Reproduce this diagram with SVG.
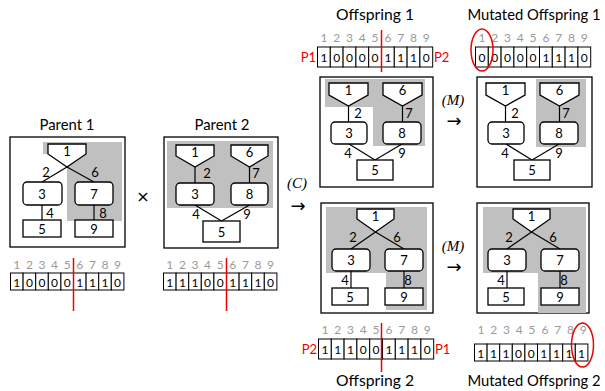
<svg xmlns="http://www.w3.org/2000/svg" width="605" height="391" viewBox="0 0 605 391">
<style>
  .title{font-family:Lato,"Open Sans","Liberation Sans",sans-serif;font-size:15px;fill:#000;text-anchor:middle}
  .lbl{font-family:Lato,"Open Sans","Liberation Sans",sans-serif;font-size:13px;fill:#000;text-anchor:middle;dominant-baseline:central}
  .idx{font-family:Lato,"Open Sans","Liberation Sans",sans-serif;font-size:12px;fill:#9a9a9a;text-anchor:middle;dominant-baseline:central}
  .bit{font-family:Lato,"Open Sans","Liberation Sans",sans-serif;font-size:12px;fill:#000;text-anchor:middle;dominant-baseline:central}
  .par{font-family:Lato,"Open Sans","Liberation Sans",sans-serif;font-size:13px;fill:#e00;dominant-baseline:central}
  .op{font-family:"Liberation Serif",serif;font-style:italic;font-size:15px;fill:#000;text-anchor:middle}
  .sym{font-family:"DejaVu Sans",sans-serif;font-size:16px;fill:#000;text-anchor:middle;dominant-baseline:central}
  .arr{font-family:"DejaVu Sans",sans-serif;font-size:18px;fill:#000;text-anchor:middle;dominant-baseline:central}
  .frame{fill:#fff;stroke:#000;stroke-width:1.3}
  .gray{fill:#c0c0c0;stroke:none}
  .node{fill:#fff;stroke:#000;stroke-width:1.3}
  .edge{stroke:#000;stroke-width:1.2;fill:none}
  .cell{fill:#fff;stroke:#000;stroke-width:1}
  .cut{stroke:#e00;stroke-width:1.5}
  .ring{fill:none;stroke:#e00;stroke-width:1.5}
</style>

<!-- titles -->
<text class="title" x="67" y="130" textLength="55" lengthAdjust="spacingAndGlyphs">Parent 1</text>
<text class="title" x="222" y="130" textLength="55" lengthAdjust="spacingAndGlyphs">Parent 2</text>
<text class="title" x="375" y="20" textLength="78" lengthAdjust="spacingAndGlyphs">Offspring 1</text>
<text class="title" x="534" y="20" textLength="133" lengthAdjust="spacingAndGlyphs">Mutated Offspring 1</text>
<text class="title" x="375" y="386" textLength="78" lengthAdjust="spacingAndGlyphs">Offspring 2</text>
<text class="title" x="534" y="386" textLength="133" lengthAdjust="spacingAndGlyphs">Mutated Offspring 2</text>

<!-- operators -->
<text class="sym" x="143" y="196">×</text>
<text class="op" x="297" y="188">(C)</text>
<text class="arr" x="298" y="205">→</text>
<text class="op" x="453" y="105">(M)</text>
<text class="arr" x="454" y="120">→</text>
<text class="op" x="453" y="251">(M)</text>
<text class="arr" x="454" y="266">→</text>

<!-- Parent 1 -->
<g id="parent1">
  <rect class="frame" x="10" y="137" width="115" height="110"/>
  <polygon class="gray" points="43,142 122,142 122,221 67,221 67,167 48,154 43,154"/>
  <g class="edges">
    <line class="edge" x1="67" y1="167" x2="42" y2="182"/>
    <line class="edge" x1="67" y1="167" x2="94" y2="182"/>
    <line class="edge" x1="42" y1="205" x2="42" y2="220"/>
    <line class="edge" x1="94" y1="205" x2="94" y2="220"/>
  </g>
  <polygon class="node" points="48,144 86,144 86,154 67,167 48,154"/>
  <rect class="node" x="23" y="182" width="39" height="23" rx="4"/>
  <rect class="node" x="75" y="182" width="38" height="23" rx="4"/>
  <rect class="node" x="23" y="220" width="38" height="17"/>
  <rect class="node" x="75" y="220" width="38" height="17"/>
  <text class="lbl" x="67" y="151">1</text>
  <text class="lbl" x="42" y="194">3</text>
  <text class="lbl" x="94" y="194">7</text>
  <text class="lbl" x="42" y="229">5</text>
  <text class="lbl" x="94" y="229">9</text>
  <text class="lbl" x="46" y="172">2</text>
  <text class="lbl" x="95" y="172">6</text>
  <text class="lbl" x="50" y="213">4</text>
  <text class="lbl" x="103" y="213">8</text>
</g>

<!-- Parent 2 -->
<g id="parent2">
  <rect class="frame" x="164" y="137" width="114" height="111"/>
  <rect class="gray" x="167" y="141" width="106" height="67"/>
  <g class="edges">
    <line class="edge" x1="195" y1="167" x2="195" y2="183"/>
    <line class="edge" x1="249.5" y1="167" x2="249.5" y2="183"/>
    <line class="edge" x1="195" y1="205" x2="221.5" y2="221"/>
    <line class="edge" x1="249.5" y1="205" x2="221.5" y2="221"/>
  </g>
  <polygon class="node" points="176,145 214,145 214,156 195,167 176,156"/>
  <polygon class="node" points="231,145 268,145 268,156 249.5,167 231,156"/>
  <rect class="node" x="176" y="183" width="38" height="22" rx="4"/>
  <rect class="node" x="231" y="183" width="37" height="22" rx="4"/>
  <rect class="node" x="203" y="221" width="37" height="21"/>
  <text class="lbl" x="195" y="152">1</text>
  <text class="lbl" x="249.5" y="152">6</text>
  <text class="lbl" x="195" y="194">3</text>
  <text class="lbl" x="249.5" y="194">8</text>
  <text class="lbl" x="221.5" y="231.5">5</text>
  <text class="lbl" x="207" y="173">2</text>
  <text class="lbl" x="256" y="173">7</text>
  <text class="lbl" x="196" y="214">4</text>
  <text class="lbl" x="247" y="214">9</text>
</g>

<!-- Offspring 1 -->
<g id="offspring1">
  <rect class="frame" x="320" y="77" width="113" height="110"/>
  <polygon class="gray" points="325,79 425,79 425,146 373,146 373,107 325,107"/>
  <g class="edges">
    <line class="edge" x1="348.5" y1="106" x2="348.5" y2="122"/>
    <line class="edge" x1="402.5" y1="106" x2="402.5" y2="122"/>
    <line class="edge" x1="349" y1="144" x2="375" y2="160"/>
    <line class="edge" x1="402" y1="144" x2="375" y2="160"/>
  </g>
  <polygon class="node" points="329,83 368,83 368,95 348.5,106 329,95"/>
  <polygon class="node" points="383,83 422,83 422,95 402.5,106 383,95"/>
  <rect class="node" x="331" y="122" width="36" height="22" rx="4"/>
  <rect class="node" x="383" y="122" width="38" height="22" rx="4"/>
  <rect class="node" x="357" y="160" width="36" height="20"/>
  <text class="lbl" x="348.5" y="90">1</text>
  <text class="lbl" x="402.5" y="90">6</text>
  <text class="lbl" x="349" y="133">3</text>
  <text class="lbl" x="402" y="133">8</text>
  <text class="lbl" x="375" y="170">5</text>
  <text class="lbl" x="358" y="113">2</text>
  <text class="lbl" x="409" y="113">7</text>
  <text class="lbl" x="348" y="153">4</text>
  <text class="lbl" x="402" y="153">9</text>
</g>

<!-- Mutated Offspring 1 -->
<g id="mutated1">
  <rect class="frame" x="477" y="77" width="115" height="110"/>
  <rect class="gray" x="536" y="79" width="50" height="68"/>
  <g class="edges">
    <line class="edge" x1="505.5" y1="106" x2="505.5" y2="122"/>
    <line class="edge" x1="559.5" y1="106" x2="559.5" y2="122"/>
    <line class="edge" x1="506" y1="144" x2="532" y2="160"/>
    <line class="edge" x1="559" y1="144" x2="532" y2="160"/>
  </g>
  <polygon class="node" points="486,83 525,83 525,95 505.5,106 486,95"/>
  <polygon class="node" points="540,83 579,83 579,95 559.5,106 540,95"/>
  <rect class="node" x="488" y="122" width="36" height="22" rx="4"/>
  <rect class="node" x="540" y="122" width="38" height="22" rx="4"/>
  <rect class="node" x="514" y="160" width="36" height="20"/>
  <text class="lbl" x="505.5" y="90">1</text>
  <text class="lbl" x="559.5" y="90">6</text>
  <text class="lbl" x="506" y="133">3</text>
  <text class="lbl" x="559" y="133">8</text>
  <text class="lbl" x="532" y="170">5</text>
  <text class="lbl" x="515" y="113">2</text>
  <text class="lbl" x="566" y="113">7</text>
  <text class="lbl" x="505" y="153">4</text>
  <text class="lbl" x="559" y="153">9</text>
</g>

<!-- Offspring 2 -->
<g id="offspring2">
  <rect class="frame" x="321" y="203" width="112" height="110"/>
  <polygon class="gray" points="326,207 427,207 427,310 386,310 386,273 326,273"/>
  <g class="edges">
    <line class="edge" x1="375.5" y1="232" x2="351" y2="249"/>
    <line class="edge" x1="375.5" y1="232" x2="404" y2="249"/>
    <line class="edge" x1="351" y1="271" x2="351" y2="288"/>
    <line class="edge" x1="404" y1="271" x2="404" y2="288"/>
  </g>
  <polygon class="node" points="357,209 394,209 394,219 375.5,232 357,219"/>
  <rect class="node" x="332" y="249" width="38" height="22" rx="4"/>
  <rect class="node" x="385" y="249" width="38" height="22" rx="4"/>
  <rect class="node" x="332" y="288" width="36" height="17"/>
  <rect class="node" x="385" y="288" width="38" height="17"/>
  <text class="lbl" x="375.5" y="216">1</text>
  <text class="lbl" x="351" y="260">3</text>
  <text class="lbl" x="404" y="260">7</text>
  <text class="lbl" x="350" y="297">5</text>
  <text class="lbl" x="404" y="297">9</text>
  <text class="lbl" x="353" y="237">2</text>
  <text class="lbl" x="397" y="237">6</text>
  <text class="lbl" x="345" y="280">4</text>
  <text class="lbl" x="408" y="280">8</text>
</g>

<!-- Mutated Offspring 2 -->
<g id="mutated2">
  <rect class="frame" x="477" y="203" width="112" height="110"/>
  <polygon class="gray" points="483,207 586,207 586,313 538,313 538,273 483,273"/>
  <g class="edges">
    <line class="edge" x1="531.5" y1="232" x2="507" y2="249"/>
    <line class="edge" x1="531.5" y1="232" x2="560" y2="249"/>
    <line class="edge" x1="507" y1="271" x2="507" y2="288"/>
    <line class="edge" x1="560" y1="271" x2="560" y2="288"/>
  </g>
  <polygon class="node" points="513,209 550,209 550,219 531.5,232 513,219"/>
  <rect class="node" x="488" y="249" width="38" height="22" rx="4"/>
  <rect class="node" x="541" y="249" width="38" height="22" rx="4"/>
  <rect class="node" x="488" y="288" width="36" height="17"/>
  <rect class="node" x="541" y="288" width="38" height="17"/>
  <text class="lbl" x="531.5" y="216">1</text>
  <text class="lbl" x="507" y="260">3</text>
  <text class="lbl" x="560" y="260">7</text>
  <text class="lbl" x="506" y="297">5</text>
  <text class="lbl" x="560" y="297">9</text>
  <text class="lbl" x="509" y="237">2</text>
  <text class="lbl" x="553" y="237">6</text>
  <text class="lbl" x="501" y="280">4</text>
  <text class="lbl" x="564" y="280">8</text>
</g>

<!-- chromosome strings -->
<defs>
  <g id="cells17">
    <rect class="cell" x="0" y="0" width="12.6" height="17"/><rect class="cell" x="12.6" y="0" width="12.6" height="17"/><rect class="cell" x="25.2" y="0" width="12.6" height="17"/><rect class="cell" x="37.8" y="0" width="12.6" height="17"/><rect class="cell" x="50.4" y="0" width="12.6" height="17"/><rect class="cell" x="63" y="0" width="12.6" height="17"/><rect class="cell" x="75.6" y="0" width="12.6" height="17"/><rect class="cell" x="88.2" y="0" width="12.6" height="17"/><rect class="cell" x="100.8" y="0" width="12.6" height="17"/>
  </g>
  <g id="cells20">
    <rect class="cell" x="0" y="0" width="12.8" height="20"/><rect class="cell" x="12.8" y="0" width="12.8" height="20"/><rect class="cell" x="25.6" y="0" width="12.8" height="20"/><rect class="cell" x="38.4" y="0" width="12.8" height="20"/><rect class="cell" x="51.2" y="0" width="12.8" height="20"/><rect class="cell" x="64" y="0" width="12.8" height="20"/><rect class="cell" x="76.8" y="0" width="12.8" height="20"/><rect class="cell" x="89.6" y="0" width="12.8" height="20"/><rect class="cell" x="102.4" y="0" width="12.8" height="20"/>
  </g>
</defs>

<g id="chrom-parent1" transform="translate(10.5,273)">
  <text class="idx" x="6.3" y="-9">1</text><text class="idx" x="18.9" y="-9">2</text><text class="idx" x="31.5" y="-9">3</text><text class="idx" x="44.1" y="-9">4</text><text class="idx" x="56.7" y="-9">5</text><text class="idx" x="69.3" y="-9">6</text><text class="idx" x="81.9" y="-9">7</text><text class="idx" x="94.5" y="-9">8</text><text class="idx" x="107.1" y="-9">9</text>
  <use href="#cells17"/>
  <text class="bit" x="6.3" y="9">1</text><text class="bit" x="18.9" y="9">0</text><text class="bit" x="31.5" y="9">0</text><text class="bit" x="44.1" y="9">0</text><text class="bit" x="56.7" y="9">0</text><text class="bit" x="69.3" y="9">1</text><text class="bit" x="81.9" y="9">1</text><text class="bit" x="94.5" y="9">1</text><text class="bit" x="107.1" y="9">0</text>
  <line class="cut" x1="63" y1="-15" x2="63" y2="38"/>
</g>

<g id="chrom-parent2" transform="translate(163.5,273)">
  <text class="idx" x="6.3" y="-9">1</text><text class="idx" x="18.9" y="-9">2</text><text class="idx" x="31.5" y="-9">3</text><text class="idx" x="44.1" y="-9">4</text><text class="idx" x="56.7" y="-9">5</text><text class="idx" x="69.3" y="-9">6</text><text class="idx" x="81.9" y="-9">7</text><text class="idx" x="94.5" y="-9">8</text><text class="idx" x="107.1" y="-9">9</text>
  <use href="#cells17"/>
  <text class="bit" x="6.3" y="9">1</text><text class="bit" x="18.9" y="9">1</text><text class="bit" x="31.5" y="9">1</text><text class="bit" x="44.1" y="9">0</text><text class="bit" x="56.7" y="9">0</text><text class="bit" x="69.3" y="9">1</text><text class="bit" x="81.9" y="9">1</text><text class="bit" x="94.5" y="9">1</text><text class="bit" x="107.1" y="9">0</text>
  <line class="cut" x1="63" y1="-15" x2="63" y2="38"/>
</g>

<g id="chrom-offspring1" transform="translate(317.5,47)">
  <text class="idx" x="6.4" y="-10">1</text><text class="idx" x="19.2" y="-10">2</text><text class="idx" x="32" y="-10">3</text><text class="idx" x="44.8" y="-10">4</text><text class="idx" x="57.6" y="-10">5</text><text class="idx" x="70.4" y="-10">6</text><text class="idx" x="83.2" y="-10">7</text><text class="idx" x="96" y="-10">8</text><text class="idx" x="108.8" y="-10">9</text>
  <use href="#cells20"/>
  <text class="bit" x="6.4" y="10">1</text><text class="bit" x="19.2" y="10">0</text><text class="bit" x="32" y="10">0</text><text class="bit" x="44.8" y="10">0</text><text class="bit" x="57.6" y="10">0</text><text class="bit" x="70.4" y="10">1</text><text class="bit" x="83.2" y="10">1</text><text class="bit" x="96" y="10">1</text><text class="bit" x="108.8" y="10">0</text>
  <text class="par" x="-1.5" y="10" text-anchor="end">P1</text>
  <text class="par" x="116.5" y="10">P2</text>
  <line class="cut" x1="64" y1="-17" x2="64" y2="25"/>
</g>

<g id="chrom-mutated1" transform="translate(475.5,47)">
  <text class="idx" x="6.4" y="-10">1</text><text class="idx" x="19.2" y="-10">2</text><text class="idx" x="32" y="-10">3</text><text class="idx" x="44.8" y="-10">4</text><text class="idx" x="57.6" y="-10">5</text><text class="idx" x="70.4" y="-10">6</text><text class="idx" x="83.2" y="-10">7</text><text class="idx" x="96" y="-10">8</text><text class="idx" x="108.8" y="-10">9</text>
  <use href="#cells20"/>
  <text class="bit" x="6.4" y="10">0</text><text class="bit" x="19.2" y="10">0</text><text class="bit" x="32" y="10">0</text><text class="bit" x="44.8" y="10">0</text><text class="bit" x="57.6" y="10">0</text><text class="bit" x="70.4" y="10">1</text><text class="bit" x="83.2" y="10">1</text><text class="bit" x="96" y="10">1</text><text class="bit" x="108.8" y="10">0</text>
  <ellipse class="ring" cx="6.5" cy="3" rx="11" ry="21"/>
</g>

<g id="chrom-offspring2" transform="translate(318.5,339)">
  <text class="idx" x="6.4" y="-10">1</text><text class="idx" x="19.2" y="-10">2</text><text class="idx" x="32" y="-10">3</text><text class="idx" x="44.8" y="-10">4</text><text class="idx" x="57.6" y="-10">5</text><text class="idx" x="70.4" y="-10">6</text><text class="idx" x="83.2" y="-10">7</text><text class="idx" x="96" y="-10">8</text><text class="idx" x="108.8" y="-10">9</text>
  <use href="#cells20"/>
  <text class="bit" x="6.4" y="10">1</text><text class="bit" x="19.2" y="10">1</text><text class="bit" x="32" y="10">1</text><text class="bit" x="44.8" y="10">0</text><text class="bit" x="57.6" y="10">0</text><text class="bit" x="70.4" y="10">1</text><text class="bit" x="83.2" y="10">1</text><text class="bit" x="96" y="10">1</text><text class="bit" x="108.8" y="10">0</text>
  <text class="par" x="-1.5" y="10" text-anchor="end">P2</text>
  <text class="par" x="116.5" y="10">P1</text>
  <line class="cut" x1="63" y1="-16" x2="63" y2="33"/>
</g>

<g id="chrom-mutated2" transform="translate(474.5,344)">
  <text class="idx" x="6.4" y="-15">1</text><text class="idx" x="19.2" y="-15">2</text><text class="idx" x="32" y="-15">3</text><text class="idx" x="44.8" y="-15">4</text><text class="idx" x="57.6" y="-15">5</text><text class="idx" x="70.4" y="-15">6</text><text class="idx" x="83.2" y="-15">7</text><text class="idx" x="96" y="-15">8</text><text class="idx" x="108.8" y="-15">9</text>
  <use href="#cells17"/>
  <text class="bit" x="6.3" y="9">1</text><text class="bit" x="18.9" y="9">1</text><text class="bit" x="31.5" y="9">1</text><text class="bit" x="44.1" y="9">0</text><text class="bit" x="56.7" y="9">0</text><text class="bit" x="69.3" y="9">1</text><text class="bit" x="81.9" y="9">1</text><text class="bit" x="94.5" y="9">1</text><text class="bit" x="107.1" y="9">1</text>
  <ellipse class="ring" cx="108" cy="1" rx="11" ry="22"/>
</g>
</svg>
